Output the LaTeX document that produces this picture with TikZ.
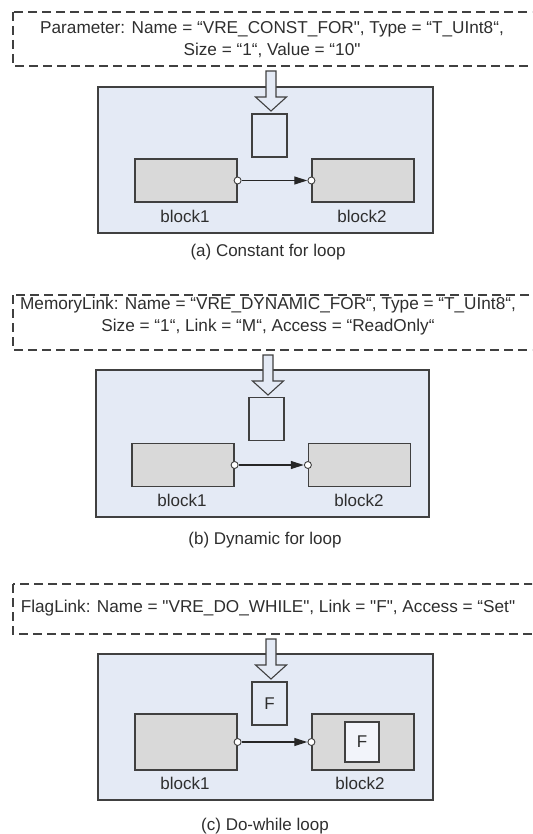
\documentclass[tikz,border=0pt]{standalone}
\usepackage{fontspec}
\setmainfont{Liberation Sans}[Ligatures=TeXOff]
\usetikzlibrary{arrows.meta}
\definecolor{edge}{HTML}{404040}
\definecolor{txt}{HTML}{2E2E2E}
\definecolor{panelfill}{HTML}{E4EAF5}
\definecolor{blockfill}{HTML}{D9D9D9}
\tikzset{
  dashbox/.style={draw=edge, line width=1.2pt, dash pattern=on 9pt off 5pt},
  infotext/.style={text=txt, font=\fontsize{17.2}{22}\selectfont, align=center, inner sep=0pt},
  panel/.style={draw=edge, line width=1.2pt, fill=panelfill},
  blockbox/.style={draw=edge, line width=1.2pt, fill=blockfill, minimum width=102pt, minimum height=43pt, inner sep=0pt},
  databox/.style={draw=edge, line width=1.2pt, fill=panelfill, minimum width=35pt, minimum height=43pt, inner sep=0pt, text=txt, font=\fontsize{17}{20}\selectfont},
  flagbox/.style={draw=edge, line width=1.2pt, fill=white!50!panelfill, minimum width=34pt, minimum height=40pt, inner sep=0pt, text=txt, font=\fontsize{17}{20}\selectfont},
  port/.style={circle, draw=edge, line width=0.9pt, fill=white, minimum size=7pt, inner sep=0pt},
  lbl/.style={text=txt, font=\fontsize{17}{20}\selectfont, inner sep=0pt},
  link/.style={draw=black!85, line width=1.2pt, -{Triangle[length=13pt,width=8pt]}, shorten >=0.2pt},
  hollow/.style={draw=edge, line width=1.1pt, fill=panelfill}
}
% hollow down arrow: x of the axis, y of the top, y of the tip
\newcommand{\downarrowshape}[3]{%
  \draw[hollow] (#1-5,#2) -- (#1+5,#2) -- (#1+5,#3-14) -- (#1+15.5,#3-14) -- (#1,#3)
    -- (#1-15.5,#3-14) -- (#1-5,#3-14) -- cycle;}
\begin{document}
\begin{tikzpicture}[x=1pt,y=-1pt]
\useasboundingbox (0,0) rectangle (532,834);
\clip (0,0) rectangle (532,834);

% ---------- (a) constant for loop ----------
\draw[dashbox] (13,12) rectangle (545,66);
\node[infotext] (tA) at (272,40) {Parameter: Name = “VRE\_CONST\_FOR", Type = “T\_UInt8“,\\ Size = “1“, Value = “10"};
\draw[panel] (98,87) rectangle (433,233);
\node[databox] (sA) at (269.5,135.5) {};
\node[blockbox] (b1A) at (186,180.5) {};
\node[blockbox] (b2A) at (363,180.5) {};
\node[port] (p1A) at (b1A.east) {};
\node[port] (p2A) at (b2A.west) {};
\draw[link] (p1A) -- (p2A);
\node[lbl] at (185,216) {block1};
\node[lbl] at (362,216) {block2};
\downarrowshape{271}{71}{111}
\node[lbl] (capA) at (268,252) {(a) Constant for loop};

% ---------- (b) dynamic for loop ----------
\draw[dashbox] (13,295) rectangle (545,350);
\node[infotext] (tB) at (268,316) {MemoryLink: Name = “VRE\_DYNAMIC\_FOR“, Type = “T\_UInt8“,\\ Size = “1“, Link = “M“, Access = “ReadOnly“};
\draw[panel] (96,370) rectangle (429,517);
\node[databox] (sB) at (266.5,419) {};
\node[blockbox] (b1B) at (183,465) {};
\node[blockbox] (b2B) at (359.5,465) {};
\node[port] (p1B) at (b1B.east) {};
\node[port] (p2B) at (b2B.west) {};
\draw[link] (p1B) -- (p2B);
\node[lbl] at (182,500) {block1};
\node[lbl] at (359,500) {block2};
\downarrowshape{268}{355}{395}
\node[lbl] (capB) at (265,540) {(b) Dynamic for loop};

% ---------- (c) do-while loop ----------
\draw[dashbox] (13,584) rectangle (545,634);
\node[infotext] (tC) at (268,608) {FlagLink: Name = "VRE\_DO\_WHILE", Link = "F", Access = “Set"};
\draw[panel] (98,654) rectangle (433,800);
\node[databox] (sC) at (269.5,703.5) {F};
\node[blockbox, minimum height=56pt] (b1C) at (186,742) {};
\node[blockbox, minimum height=56pt] (b2C) at (363,742) {};
\node[flagbox] (fC) at (362,742) {F};
\node[port] (p1C) at (b1C.east) {};
\node[port] (p2C) at (b2C.west) {};
\draw[link] (p1C) -- (p2C);
\node[lbl] at (185,783) {block1};
\node[lbl] at (360,783) {block2};
\downarrowshape{271}{639}{679}
\node[lbl] (capC) at (265,826) {(c) Do-while loop};
\end{tikzpicture}
\end{document}
